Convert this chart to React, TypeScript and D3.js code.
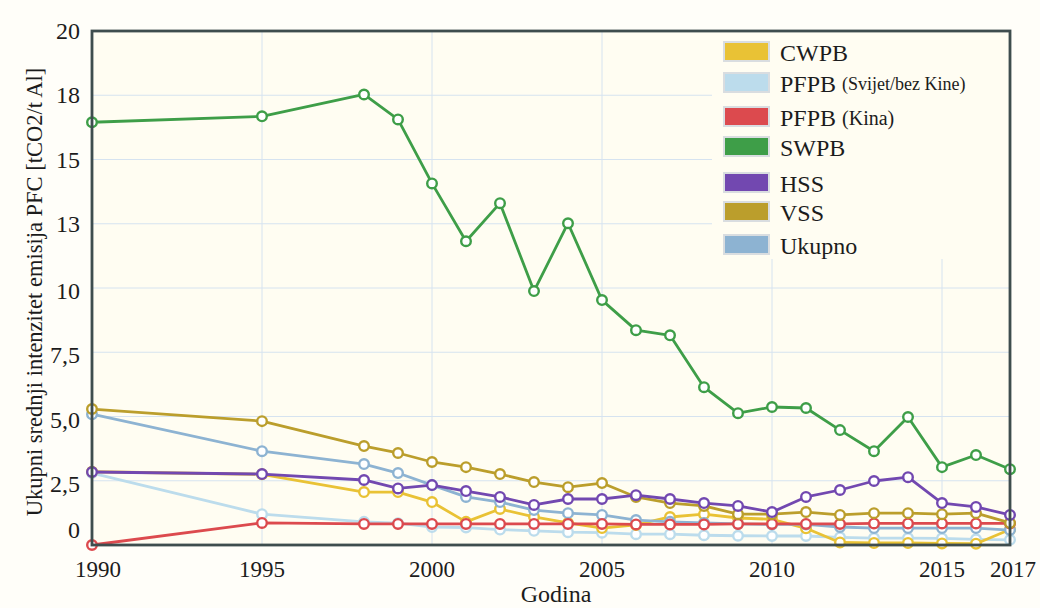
import * as React from "react";
import * as d3 from "d3";

const years = [1990, 1995, 1998, 1999, 2000, 2001, 2002, 2003, 2004, 2005, 2006, 2007, 2008, 2009, 2010, 2011, 2012, 2013, 2014, 2015, 2016, 2017];

const cwpb = [2.85, 2.75, 2.06, 2.06, 1.67, 0.9, 1.4, 1.09, 0.86, 0.66, 0.78, 1.09, 1.2, 1.05, 1.0, 0.65, 0.1, 0.08, 0.08, 0.06, 0.05, 0.6];
const pfpbWorld = [2.8, 1.2, 0.9, 0.85, 0.7, 0.68, 0.6, 0.55, 0.5, 0.48, 0.42, 0.42, 0.38, 0.36, 0.35, 0.35, 0.3, 0.27, 0.27, 0.26, 0.22, 0.2];
const pfpbChina = [0, 0.86, 0.82, 0.82, 0.82, 0.82, 0.82, 0.82, 0.82, 0.82, 0.8, 0.8, 0.8, 0.82, 0.82, 0.82, 0.82, 0.84, 0.84, 0.84, 0.84, 0.84];
const swpb = [16.45, 16.68, 17.53, 16.56, 14.07, 11.82, 13.3, 9.88, 12.52, 9.53, 8.36, 8.16, 6.14, 5.13, 5.37, 5.33, 4.47, 3.65, 4.98, 3.03, 3.5, 2.95];
const hss = [2.84, 2.76, 2.53, 2.2, 2.33, 2.1, 1.87, 1.56, 1.79, 1.79, 1.94, 1.79, 1.63, 1.52, 1.28, 1.87, 2.14, 2.49, 2.64, 1.63, 1.48, 1.17];
const vss = [5.29, 4.82, 3.85, 3.58, 3.23, 3.03, 2.76, 2.45, 2.25, 2.41, 1.87, 1.63, 1.52, 1.2, 1.2, 1.28, 1.17, 1.24, 1.24, 1.2, 1.24, 0.86];
const total = [5.09, 3.65, 3.15, 2.8, 2.33, 1.87, 1.67, 1.36, 1.24, 1.17, 0.97, 0.9, 0.86, 0.82, 0.8, 0.8, 0.7, 0.66, 0.66, 0.66, 0.66, 0.58];

const yTicks = [0, 2.5, 5, 7.5, 10, 12.5, 15, 17.5, 20];
const yTickLabels = ["0", "2,5", "5,0", "7,5", "10", "13", "15", "18", "20"];
const xTicks = [1990, 1995, 2000, 2005, 2010, 2015, 2017];
const xGrid = [1995, 2000, 2005, 2010, 2015];

// legend order
const legendNames = ["CWPB", "PFPB", "PFPB", "SWPB", "HSS", "VSS", "Ukupno"];
const legendSub = ["", "(Svijet/bez Kine)", "(Kina)", "", "", "", ""];
const colors = ["#e9c235", "#bcdcec", "#dc4a4e", "#3e9e48", "#7248b0", "#bb9e2c", "#8db3d2"];
const seriesData = [cwpb, pfpbWorld, pfpbChina, swpb, hss, vss, total];
// order in which the lines are painted
const drawOrder = [1, 0, 6, 2, 5, 4, 3];

const W = 1040;
const H = 608;
const left = 92;
const right = 1010;
const top = 31;
const bottom = 545;
const font = "'Liberation Serif', 'DejaVu Serif', serif";
const ink = "#1c1c1c";

export default function App() {
  const x = d3.scaleLinear().domain([1990, 2017]).range([left, right]);
  const y = d3.scaleLinear().domain([0, 20]).range([bottom, top]);
  const line = d3
    .line<number>()
    .x((d, i) => x(years[i]))
    .y((d) => y(d));

  return (
    <svg width={W} height={H} style={{ position: "absolute", left: 0, top: 0 }} fontFamily={font}>
      <rect width={W} height={H} fill="#fffef9" />
      <rect x={left} y={top} width={right - left} height={bottom - top} fill="#fffdf2" />

      {/* grid */}
      {yTicks.slice(1, -1).map((t) => (
        <line key={"gy" + t} x1={left} x2={right} y1={y(t)} y2={y(t)} stroke="#d6e3f0" strokeWidth={1} />
      ))}
      {xGrid.map((t) => (
        <line key={"gx" + t} x1={x(t)} x2={x(t)} y1={top} y2={bottom} stroke="#d6e3f0" strokeWidth={1} />
      ))}

      {/* legend background hides grid */}
      <rect x={712} y={top + 1} width={right - 712} height={227} fill="#fffdf2" />

      {/* series */}
      {drawOrder.map((si) => (
        <g key={"s" + si}>
          <path d={line(seriesData[si]) || ""} fill="none" stroke={colors[si]} strokeWidth={2.8} strokeLinejoin="round" />
          {seriesData[si].map((v, i) => (
            <circle key={i} cx={x(years[i])} cy={y(v)} r={4.8} fill="#ffffff" stroke={colors[si]} strokeWidth={2.4} />
          ))}
        </g>
      ))}

      {/* frame */}
      <rect x={left} y={top} width={right - left} height={bottom - top} fill="none" stroke="#3e4d4e" strokeWidth={2.8} />

      {/* y ticks */}
      {yTicks.map((t, i) => (
        <text
          key={"ty" + t}
          x={80}
          y={y(t) + (t === 0 ? -15 : t <= 10 && t > 0 ? 3 : 0)}
          textAnchor="end"
          dominantBaseline="central"
          fontSize={24}
          fill={ink}
        >
          {yTickLabels[i]}
        </text>
      ))}

      {/* x ticks */}
      {xTicks.map((t) => (
        <text
          key={"tx" + t}
          x={x(t) + (t === 1990 ? 6 : t === 2017 ? 3 : 0)}
          y={569}
          textAnchor="middle"
          dominantBaseline="central"
          fontSize={23}
          fill={ink}
        >
          {t}
        </text>
      ))}

      <text x={556} y={594} textAnchor="middle" dominantBaseline="central" fontSize={24} fill={ink}>
        Godina
      </text>
      <text
        transform={`translate(34, 292) rotate(-90)`}
        textAnchor="middle"
        dominantBaseline="central"
        fontSize={22.5}
        fill={ink}
      >
        Ukupni srednji intenzitet emisija PFC [tCO2/t Al]
      </text>

      {/* legend */}
      {legendNames.map((n, i) => {
        const cy = [52, 83, 117, 147, 183, 212, 245][i];
        return (
          <g key={"l" + i}>
            <rect x={724} y={cy - 10} width={45} height={19} fill={colors[i]} stroke="#d9dde0" strokeWidth={2} />
            <text x={780} y={cy + 1} dominantBaseline="central" fontSize={24} fill={ink}>
              {n}
              {legendSub[i] ? (
                <tspan fontSize={i === 1 ? 18 : 20} dx={6}>
                  {legendSub[i]}
                </tspan>
              ) : null}
            </text>
          </g>
        );
      })}
    </svg>
  );
}
